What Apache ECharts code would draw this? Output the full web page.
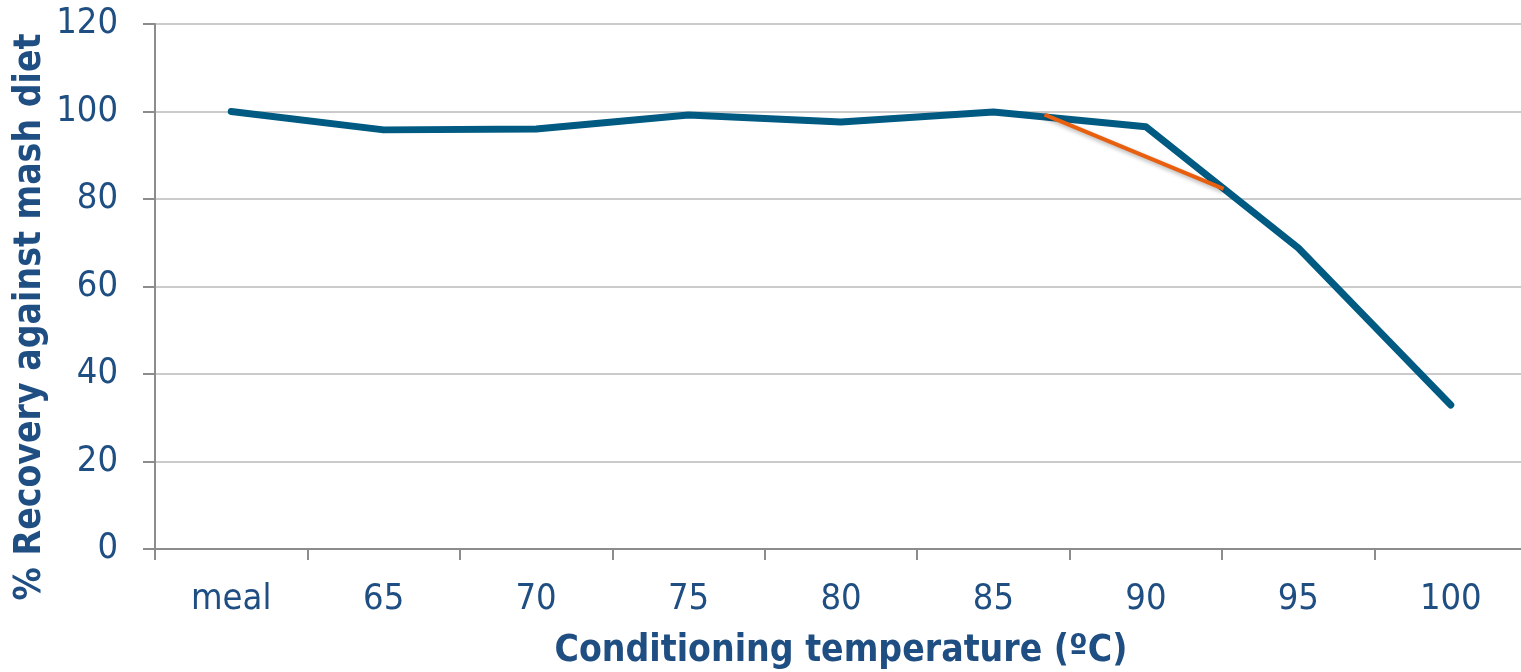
<!DOCTYPE html>
<html>
<head>
<meta charset="utf-8">
<script src="https://cdn.jsdelivr.net/npm/echarts@6/dist/echarts.min.js"></script>
<style>
  html, body { margin: 0; padding: 0; background: #fff; }
  #chart { width: 1521px; height: 672px; }
</style>
</head>
<body>
<div id="chart"></div>
<script>
const categories = ['meal', '65', '70', '75', '80', '85', '90', '95', '100']
const recovery = [100, 95.8, 96.0, 99.2, 97.6, 99.9, 96.5, 68.8, 32.9]
// orange segment, x in category-slot units (0 = left edge of "meal")
const trendX = [5.835, 7.01]
const trendY = [99.3, 82.3]
const yTicks = { min: 0, max: 120, interval: 20 }

const textColor = '#1f4e82'
const font = 'DejaVu Sans Condensed'

const chart = echarts.init(document.getElementById('chart'))
chart.setOption({
  backgroundColor: '#ffffff',
  animation: false,
  grid: { left: 155, width: 1372, top: 24, height: 525, containLabel: false, outerBoundsMode: 'none' },
  xAxis: [
    {
      type: 'category',
      data: categories,
      boundaryGap: true,
      name: 'Conditioning temperature (ºC)',
      nameLocation: 'middle',
      nameGap: 84,
      nameTextStyle: { color: textColor, fontFamily: font, fontWeight: 'bold', fontSize: 37 },
      axisLine: { lineStyle: { color: '#8c8c8c', width: 2 } },
      axisTick: { show: true, length: 11, lineStyle: { color: '#8c8c8c', width: 2 } },
      axisLabel: { color: textColor, fontFamily: font, fontSize: 36, margin: 33 },
    },
    {
      type: 'value',
      min: 0,
      max: categories.length,
      show: false,
    },
  ],
  yAxis: {
    type: 'value',
    min: yTicks.min,
    max: yTicks.max,
    interval: yTicks.interval,
    axisLine: { show: true, lineStyle: { color: '#8c8c8c', width: 2 } },
    axisTick: { show: true, length: 12, lineStyle: { color: '#8c8c8c', width: 2 } },
    splitLine: { lineStyle: { color: '#cbcbcb', width: 2 } },
    axisLabel: { color: textColor, fontFamily: font, fontSize: 36, margin: 37 },
  },
  graphic: [{
    type: 'text',
    x: 30,
    y: 317,
    rotation: Math.PI / 2,
    style: {
      text: '% Recovery against mash diet',
      fill: textColor,
      font: 'bold 37px "' + font + '"',
      align: 'center',
      verticalAlign: 'middle',
    },
  }],
  series: [
    {
      type: 'line',
      xAxisIndex: 0,
      data: recovery,
      showSymbol: false,
      lineStyle: { color: '#005a82', width: 7, cap: 'round', join: 'round' },
      z: 3,
    },
    {
      type: 'line',
      xAxisIndex: 1,
      data: trendX.map((x, i) => [x, trendY[i]]),
      showSymbol: false,
      lineStyle: {
        color: '#e8600f', width: 4,
        shadowColor: 'rgba(0,0,0,0.3)', shadowBlur: 4, shadowOffsetY: 2,
      },
      z: 4,
    },
  ],
})
</script>
</body>
</html>
